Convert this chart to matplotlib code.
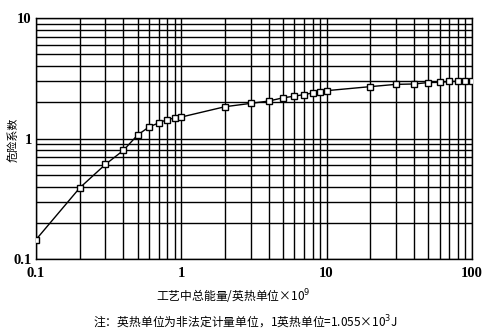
import matplotlib
matplotlib.use('Agg')
import matplotlib.pyplot as plt
from matplotlib.ticker import LogLocator, FixedLocator, FixedFormatter, NullFormatter

plt.rcParams['font.family'] = ['Noto Sans CJK SC', 'DejaVu Sans']

# energy (x 10^9 BTU) and hazard factor
energy = [0.1, 0.2, 0.3, 0.4, 0.5, 0.6, 0.7, 0.8, 0.9, 1.0,
          2, 3, 4, 5, 6, 7, 8, 9, 10,
          20, 30, 40, 50, 60, 70, 80, 90, 100]
factor = [0.145, 0.39, 0.61, 0.80, 1.07, 1.25, 1.35, 1.44, 1.48, 1.51,
          1.84, 1.96, 2.05, 2.18, 2.25, 2.32, 2.39, 2.46, 2.50,
          2.70, 2.82, 2.84, 2.92, 2.93, 2.98, 2.99, 3.0, 3.0]

x_ticks = [0.1, 1, 10, 100]
x_labels = ['0.1', '1', '10', '100']
y_ticks = [0.1, 1, 10]
y_labels = ['0.1', '1', '10']

fig = plt.figure(figsize=(4.9, 3.36), dpi=100)
ax = fig.add_axes([0.0735, 0.229, 0.8895, 0.717])

ax.set_xscale('log')
ax.set_yscale('log')
ax.set_xlim(0.1, 100)
ax.set_ylim(0.1, 10)

ax.plot(energy, factor, color='black', lw=1.0, marker='s', ms=4.5,
        mfc='white', mec='black', mew=1.0, zorder=3)

ax.xaxis.set_major_locator(FixedLocator(x_ticks))
ax.xaxis.set_major_formatter(FixedFormatter(x_labels))
ax.yaxis.set_major_locator(FixedLocator(y_ticks))
ax.yaxis.set_major_formatter(FixedFormatter(y_labels))
ax.xaxis.set_minor_locator(LogLocator(base=10, subs=range(2, 10)))
ax.yaxis.set_minor_locator(LogLocator(base=10, subs=range(2, 10)))
ax.xaxis.set_minor_formatter(NullFormatter())
ax.yaxis.set_minor_formatter(NullFormatter())

ax.grid(which='both', color='black', lw=1.0)
ax.tick_params(which='both', length=0, labelsize=10.5)
ax.tick_params(axis='x', pad=6)
ax.tick_params(axis='y', pad=3)
for lab in ax.get_xticklabels() + ax.get_yticklabels():
    lab.set_family('Liberation Serif')
    lab.set_fontweight('bold')
for s in ax.spines.values():
    s.set_color('black')
    s.set_linewidth(1.0)

fig.text(0.026, 0.583, '危险系数', rotation=90, ha='center', va='center', fontsize=8)
fig.text(0.475, 0.118, '工艺中总能量/英热单位×10$^9$', ha='center', va='center', fontsize=8.5)
fig.text(0.5, 0.04, '注：英热单位为非法定计量单位，1英热单位=1.055×10$^3$J',
         ha='center', va='center', fontsize=8.5)

fig.savefig('out.png', dpi=100)
